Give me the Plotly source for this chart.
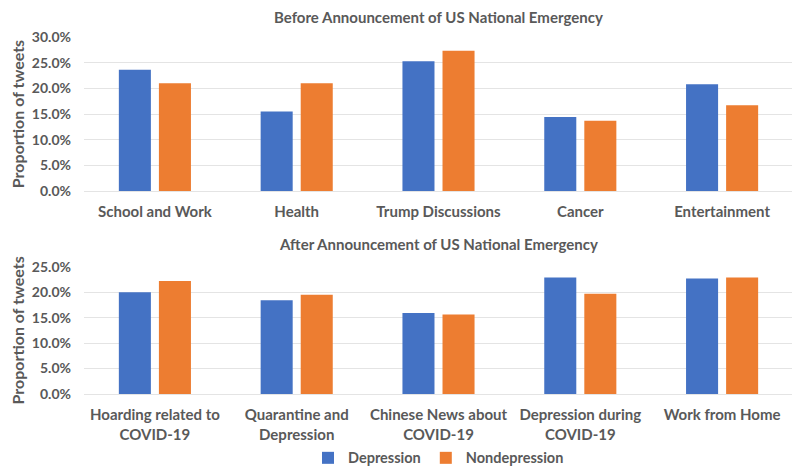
import plotly.graph_objects as go
from plotly.subplots import make_subplots

# Before announcement of US national emergency
before_topics = ['School and Work', 'Health', 'Trump Discussions', 'Cancer', 'Entertainment']
before_depression = [0.236, 0.155, 0.253, 0.144, 0.208]
before_nondepression = [0.210, 0.210, 0.273, 0.137, 0.167]

# After announcement of US national emergency
after_topics = ['Hoarding related to<br>COVID-19', 'Quarantine and<br>Depression',
                'Chinese News about<br>COVID-19', 'Depression during<br>COVID-19',
                'Work from Home']
after_depression = [0.200, 0.184, 0.159, 0.229, 0.227]
after_nondepression = [0.222, 0.195, 0.156, 0.197, 0.229]

blue = '#4472C4'
orange = '#ED7D31'
grey = '#595959'
font = 'Lato, Open Sans, sans-serif'

fig = make_subplots(rows=2, cols=1, vertical_spacing=0.0)

fig.add_trace(go.Bar(x=before_topics, y=before_depression, name='Depression',
                     marker_color=blue, marker_line_width=0), row=1, col=1)
fig.add_trace(go.Bar(x=before_topics, y=before_nondepression, name='Nondepression',
                     marker_color=orange, marker_line_width=0), row=1, col=1)
fig.add_trace(go.Bar(x=after_topics, y=after_depression, name='Depression',
                     marker_color=blue, marker_line_width=0, showlegend=False), row=2, col=1)
fig.add_trace(go.Bar(x=after_topics, y=after_nondepression, name='Nondepression',
                     marker_color=orange, marker_line_width=0, showlegend=False), row=2, col=1)

fig.update_yaxes(tickformat='.1%', dtick=0.05, gridcolor='#E4E4E4', gridwidth=1,
                 zeroline=True, zerolinecolor='#E4E4E4', zerolinewidth=1,
                 showline=False, ticks='', ticklabelstandoff=12, automargin=False,
                 tickfont=dict(family=font, size=14, color=grey, weight='bold'),
                 title_text='Proportion of tweets',
                 title_font=dict(family=font, size=16, color=grey, weight='bold'),
                 title_standoff=6)
fig.update_yaxes(range=[0, 0.30], domain=[0.5686, 1.0], row=1, col=1)
fig.update_yaxes(range=[0, 0.25], domain=[0.0, 0.3566], row=2, col=1)
fig.update_xaxes(showline=False, ticks='', ticklabelstandoff=10, automargin=False,
                 tickfont=dict(family=font, size=15, color=grey, weight='bold'),
                 showgrid=False)

fig.add_annotation(text='Before Announcement of US National Emergency', xref='paper',
                   yref='paper', x=0.5, y=1.0, yanchor='middle', yshift=20,
                   showarrow=False,
                   font=dict(family=font, size=15, color=grey, weight='bold'))
fig.add_annotation(text='After Announcement of US National Emergency', xref='paper',
                   yref='paper', x=0.5, y=0.3566, yanchor='middle', yshift=23,
                   showarrow=False,
                   font=dict(family=font, size=15, color=grey, weight='bold'))

# the page body adds an 8px offset, so the figure is sized 8px smaller
fig.update_layout(
    width=792, height=466,
    margin=dict(l=76, r=7, t=29, b=80, autoexpand=False),
    barmode='group', bargap=0.435, bargroupgap=0.2,
    plot_bgcolor='white', paper_bgcolor='white',
    font=dict(family=font, color=grey),
    legend=dict(orientation='h', x=0.5, xanchor='center', y=-0.179, yanchor='middle',
                font=dict(family=font, size=14.5, color=grey, weight='bold'),
                itemwidth=30, tracegroupgap=0),
)

fig.write_html('out.html')
